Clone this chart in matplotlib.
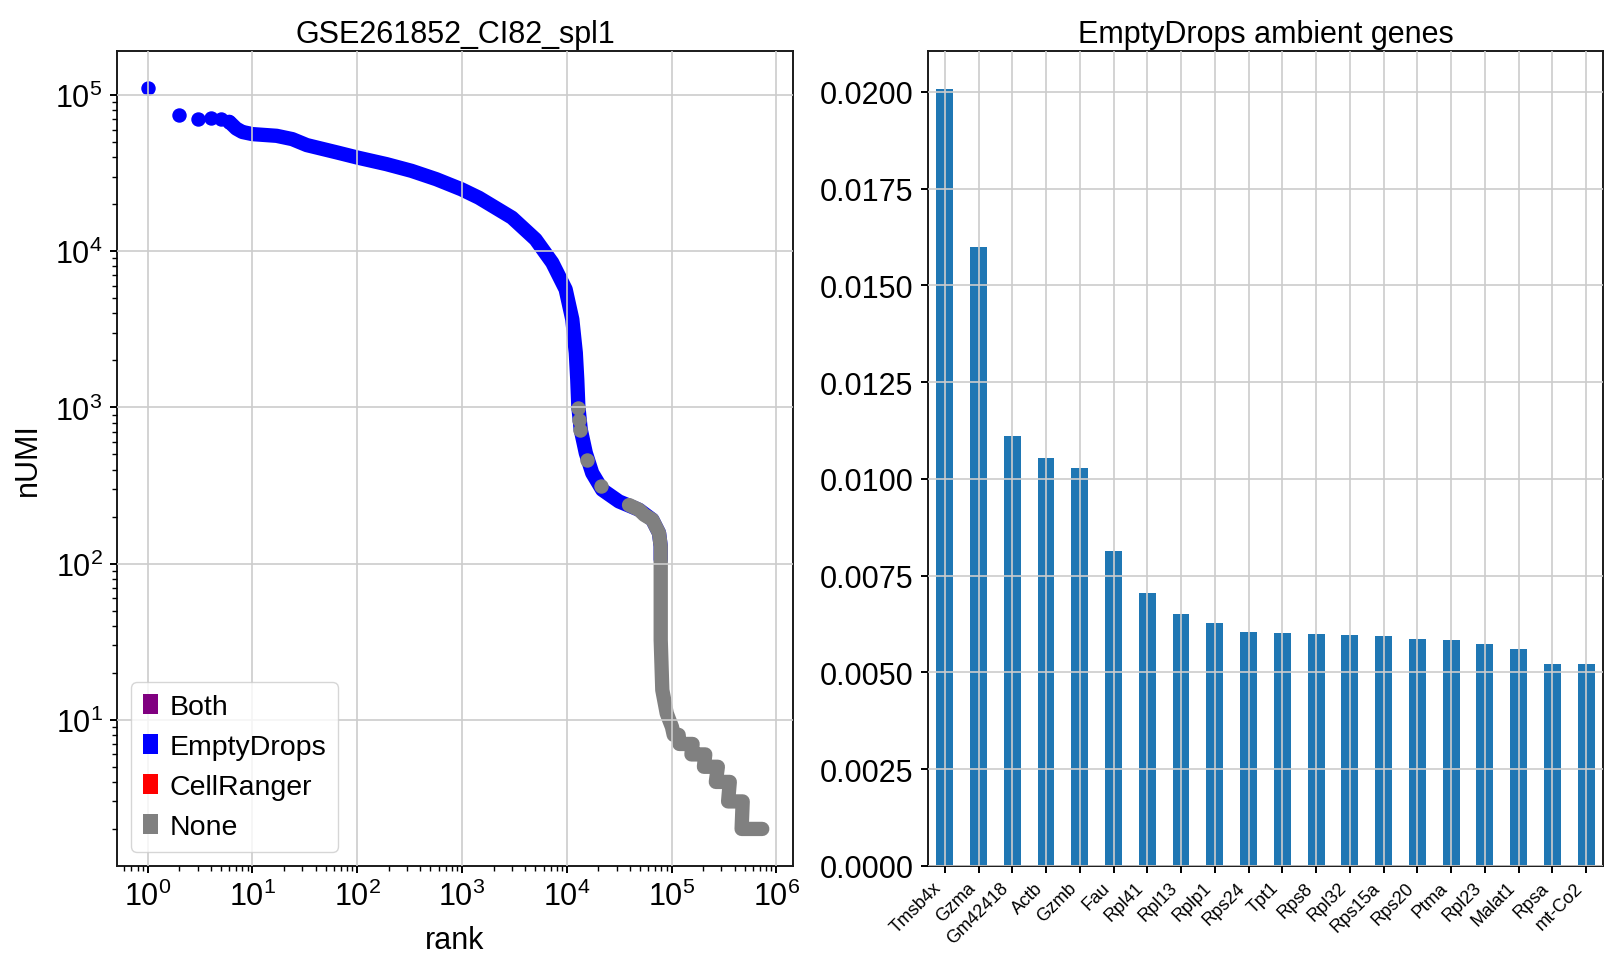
import matplotlib
matplotlib.use('Agg')
import matplotlib.pyplot as plt
from matplotlib.patches import Patch
import numpy as np

plt.rcParams['font.family'] = ['Liberation Sans', 'DejaVu Sans']
plt.rcParams['mathtext.fontset'] = 'custom'
plt.rcParams['mathtext.rm'] = 'Liberation Sans'
plt.rcParams['mathtext.default'] = 'regular'
plt.rcParams['font.size'] = 22

# knee plot, values
top_rank = [1, 2, 3, 4, 5, 6]
top_umi = [111400, 74800, 70200, 70800, 70200, 67400]

blue_rank = [6, 7, 8, 10, 17, 24, 33, 64, 100, 190, 330, 570, 990, 1450, 3000,
             5040, 7270, 9760, 11300, 12200, 12600, 12900, 13600, 15200, 17500,
             21800, 31500, 49000, 65600, 76000, 78900, 78900]
blue_umi = [67400, 61000, 58000, 56200, 54800, 52200, 47800, 42900, 39800, 36100,
            32700, 28900, 24900, 22000, 16400, 11900, 8450, 5700, 3660, 2240, 1510,
            1016, 721, 511, 380, 297, 250, 221, 191, 157, 129, 106]

gray_dot_rank = [12900, 13150, 13400, 15700, 21100]
gray_dot_umi = [990, 835, 721, 462, 312]

gray_rank = [39300, 49000, 55000, 65600, 76000, 78900, 78900, 78900, 81700, 90000,
             95000, 101000, 105000, 117000, 119000, 159000, 155000, 210000, 204000,
             277000, 265000, 360000, 347000, 478000, 467000, 735000]
gray_umi = [237, 221, 205, 191, 157, 129, 106, 32.4, 15.5, 11, 10, 9, 8, 8, 7, 7,
            6, 6, 5, 5, 4, 4, 3, 3, 2, 2]

legend_labels = ['Both', 'EmptyDrops', 'CellRanger', 'None']
legend_colors = ['purple', 'blue', 'red', 'grey']

# ambient genes
genes = ['Tmsb4x', 'Gzma', 'Gm42418', 'Actb', 'Gzmb', 'Fau', 'Rpl41', 'Rpl13',
         'Rplp1', 'Rps24', 'Tpt1', 'Rps8', 'Rpl32', 'Rps15a', 'Rps20', 'Ptma',
         'Rpl23', 'Malat1', 'Rpsa', 'mt-Co2']
ambient = [0.02006, 0.01600, 0.01111, 0.01054, 0.01028, 0.00814, 0.00705, 0.00651,
           0.00628, 0.00604, 0.00602, 0.00599, 0.00596, 0.00594, 0.00586, 0.00583,
           0.00573, 0.00560, 0.00521, 0.00521]

fig = plt.figure(figsize=(16.18, 9.78), dpi=100)
ax1 = fig.add_axes([0.0723, 0.1135, 0.4178, 0.8337])
ax2 = fig.add_axes([0.5735, 0.1135, 0.4172, 0.8337])

band = 10.3
ax1.plot(blue_rank, blue_umi, color='blue', lw=band,
         solid_capstyle='round', solid_joinstyle='round')
ax1.scatter(top_rank, top_umi, s=88, color='blue', zorder=2)
ax1.scatter(gray_dot_rank, gray_dot_umi, s=88, color='grey', zorder=2)
ax1.plot(gray_rank, gray_umi, color='grey', lw=band,
         solid_capstyle='round', solid_joinstyle='round')
ax1.set_xscale('log')
ax1.set_yscale('log')
ax1.set_xticks([1e0, 1e1, 1e2, 1e3, 1e4, 1e5, 1e6])
ax1.set_yticks([1e1, 1e2, 1e3, 1e4, 1e5])
ax1.set_title('GSE261852_CI82_spl1', fontsize=22)
ax1.set_xlabel('rank', fontsize=22, labelpad=10)
ax1.set_ylabel('nUMI', fontsize=22, labelpad=9)
handles = [Patch(facecolor=c, label=l) for l, c in zip(legend_labels, legend_colors)]
ax1.legend(handles=handles, loc='lower left', fontsize=20.5, handlelength=0.55,
           handletextpad=0.4)

x = np.arange(len(genes))
ax2.bar(x, ambient, width=0.5, color='#1f77b4')
ax2.set_xlim(-0.5, len(genes) - 0.5)
ax2.set_xticks(x)
ax2.set_xticklabels(genes, rotation=45, ha='right', fontsize=13)
ax2.set_title('EmptyDrops ambient genes', fontsize=22)

for ax in (ax1, ax2):
    ax.set_axisbelow(False)
    ax.grid(True, color='#cccccc', lw=1.2)
    ax.grid(False, which='minor')
    for s in ax.spines.values():
        s.set_linewidth(1.4)
        s.set_color('#1a1a1a')
    ax.tick_params(which='major', length=5.3, width=1.4, labelsize=22, pad=5)
    ax.tick_params(which='minor', length=3.4, width=1.0)
ax2.tick_params(axis='x', labelsize=13, pad=4)

fig.savefig('out.png', dpi=100)
